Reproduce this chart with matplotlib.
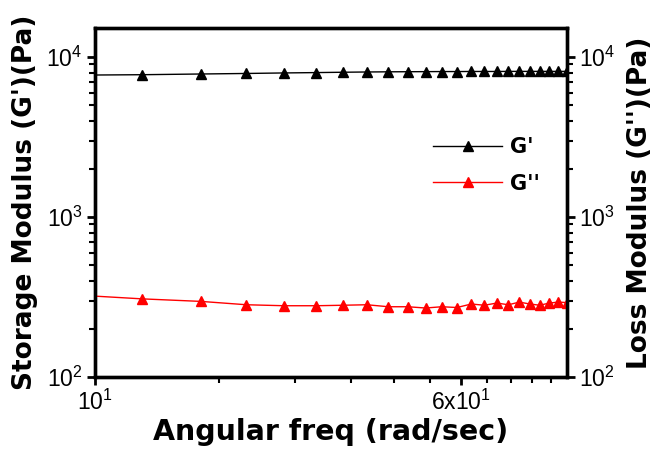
import numpy as np
import matplotlib
matplotlib.use("Agg")
import matplotlib.pyplot as plt
from matplotlib.ticker import FixedLocator, FixedFormatter, LogLocator, NullFormatter

plt.rcParams['font.family'] = ['Liberation Sans', 'DejaVu Sans']
plt.rcParams['mathtext.default'] = 'regular'

# angular frequency (rad/sec)
freq = [8.4, 12.6, 16.8, 21.0, 25.3, 29.5, 33.7, 37.9, 42.1, 46.3, 50.5,
        54.7, 58.9, 63.2, 67.4, 71.6, 75.8, 80.0, 84.2, 88.4, 92.6, 96.8, 101.0]
# storage modulus G' (Pa)
g_storage = [7700, 7760, 7840, 7900, 7960, 8000, 8040, 8070, 8090, 8100, 8110,
             8120, 8120, 8130, 8130, 8130, 8140, 8140, 8140, 8140, 8140, 8140, 8140]
# loss modulus G'' (Pa)
g_loss = [330, 308, 297, 283, 279, 279, 281, 283, 275, 275, 270,
          275, 272, 286, 281, 290, 283, 294, 286, 281, 290, 294, 292]

x_major = [10, 60]
x_major_labels = ['$10^1$', '$6x10^1$']
x_minor = [18.33, 26.67, 35.0, 43.33, 51.67, 68.33, 76.67, 85.0, 93.33]

fig = plt.figure(figsize=(6.57, 4.59), dpi=100)
ax = fig.add_axes([0.1446, 0.1786, 0.7184, 0.7604])
ax2 = ax.twinx()

ax.plot(freq, g_storage, color='black', lw=1.0, marker='^', ms=7, label="G'")
ax2.plot(freq, g_loss, color='red', lw=1.0, marker='^', ms=7, label="G''")

for a in (ax, ax2):
    a.set_xscale('log')
    a.set_yscale('log')
    a.set_ylim(100, 15200)
    a.set_xlim(10, 101)
    for s in a.spines.values():
        s.set_linewidth(2.4)
    a.yaxis.set_major_locator(LogLocator(base=10, numticks=10))
    a.yaxis.set_minor_locator(LogLocator(base=10, subs=np.arange(2, 10), numticks=10))
    a.yaxis.set_minor_formatter(NullFormatter())
    a.tick_params(axis='y', which='major', direction='out', length=6, width=2,
                  labelsize=16.5, pad=3)
    a.tick_params(axis='y', which='minor', direction='out', length=4, width=1.5)

ax.xaxis.set_major_locator(FixedLocator(x_major))
ax.xaxis.set_major_formatter(FixedFormatter(x_major_labels))
ax.xaxis.set_minor_locator(FixedLocator(x_minor))
ax.xaxis.set_minor_formatter(NullFormatter())
ax.tick_params(axis='x', which='major', direction='out', length=6, width=2,
               labelsize=16.5, pad=3, top=False)
ax.tick_params(axis='x', which='minor', direction='out', length=4, width=1.5, top=False)

label_font = {'family': 'DejaVu Sans', 'weight': 'bold'}
ax.set_xlabel('Angular freq (rad/sec)', fontsize=20.5, labelpad=2, **label_font)
ax.set_ylabel("Storage Modulus (G')(Pa)", fontsize=19, labelpad=6, **label_font)
ax2.set_ylabel("Loss Modulus (G'')(Pa)", fontsize=19, labelpad=8, **label_font)

h1, l1 = ax.get_legend_handles_labels()
h2, l2 = ax2.get_legend_handles_labels()
ax2.legend(h1 + h2, l1 + l2, loc='upper left', bbox_to_anchor=(0.647, 0.719),
           bbox_transform=fig.transFigure, borderaxespad=0,
           frameon=False, numpoints=1, handlelength=3.3, handletextpad=0.4,
           labelspacing=0.78, prop={'family': 'DejaVu Sans', 'size': 15, 'weight': 'bold'})

fig.savefig('out.png', dpi=100)
